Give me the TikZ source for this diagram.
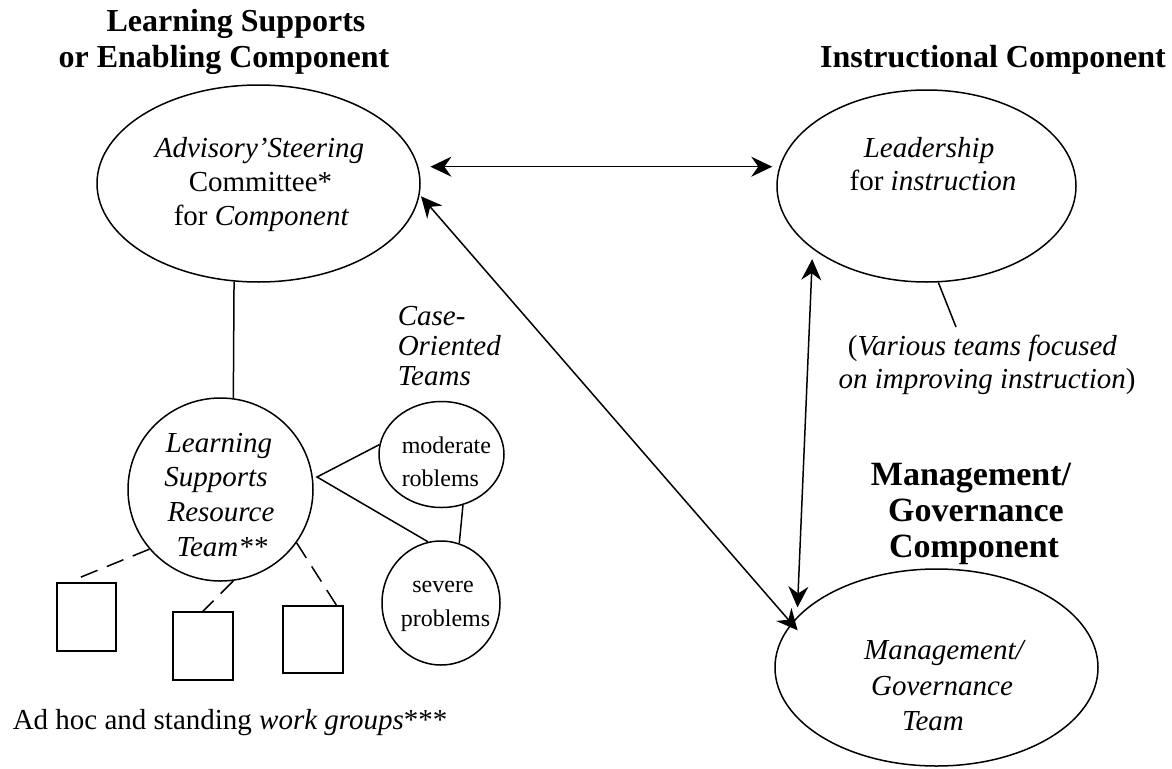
\documentclass[tikz,border=0pt]{standalone}
\usepackage{fontspec}
\setmainfont{Liberation Serif}
\usetikzlibrary{shapes.geometric,arrows.meta}
\begin{document}
\begin{tikzpicture}[x=1pt,y=-1pt, line width=1.5pt,
  shp/.style={draw, ellipse, inner sep=0pt},
  bx/.style={draw, rectangle, inner sep=0pt},
  txt/.style={anchor=base, inner sep=0pt, font=\fontsize{29}{34}\selectfont},
  sml/.style={anchor=base, inner sep=0pt, font=\fontsize{24}{28}\selectfont},
  head/.style={anchor=base, inner sep=0pt, font=\fontsize{32}{36}\selectfont\bfseries},
  headL/.style={anchor=base, inner sep=0pt, font=\fontsize{34}{38}\selectfont\bfseries},
  arr/.style={{Stealth[length=21pt,width=20pt,inset=7pt]}-{Stealth[length=21pt,width=20pt,inset=7pt]}},
  dsh/.style={dash pattern=on 18pt off 10pt}
]
\useasboundingbox (0,0) rectangle (1172,768);

% shapes
\node[shp, minimum width=323pt, minimum height=197pt] (adv) at (258.5,183.5) {};
\node[shp, minimum width=299pt, minimum height=192pt] (lead) at (926.5,186) {};
\node[shp, minimum width=323pt, minimum height=197pt] (mgmt) at (936.5,667.5) {};
\node[shp, minimum width=185pt, minimum height=183pt] (lsrt) at (220.5,489.5) {};
\node[shp, minimum width=125pt, minimum height=106pt] (mod) at (441.5,454.5) {};
\node[shp, minimum width=118pt, minimum height=124pt] (sev) at (441,603) {};
\node[bx, minimum width=59pt, minimum height=68pt] (b1) at (86.5,617) {};
\node[bx, minimum width=60pt, minimum height=68pt] (b2) at (203,646) {};
\node[bx, minimum width=60pt, minimum height=67pt] (b3) at (313,639.5) {};

% headings
\node[head] (h1a) at (236,32) {Learning Supports};
\node[head] (h1b) at (224,67) {or Enabling Component};
\node[head] (h2) at (993,67) {Instructional Component};
\node[headL] (h3a) at (971,485) {Management/};
\node[headL] (h3b) at (976,521) {Governance};
\node[headL] (h3c) at (974,557) {Component};

% texts
\node[txt] (a1) at (259.5,157) {\textit{Advisory’Steering}};
\node[txt] (a2) at (260.5,191) {Committee*};
\node[txt] (a3) at (261.5,225) {for \textit{Component}};
\node[txt] (l1) at (929,157) {\textit{Leadership}};
\node[txt] (l2) at (933,190) {for \textit{instruction}};
\node[txt] (r1) at (219,452) {\textit{Learning}};
\node[txt] (r2) at (216,486) {\textit{Supports}};
\node[txt] (r3) at (221,521) {\textit{Resource}};
\node[txt] (r4) at (222,556) {\textit{Team**}};
\node[txt, anchor=base west] (c1) at (397,325) {\textit{Case-}};
\node[txt, anchor=base west] (c2) at (397,355) {\textit{Oriented}};
\node[txt, anchor=base west] (c3) at (397,385) {\textit{Teams}};
\node[sml, anchor=base west] (m1) at (401,453) {moderate};
\node[sml, anchor=base west] (m2) at (401,486) {roblems};
\node[sml] (s1) at (443,592) {severe};
\node[sml] (s2) at (445.5,626) {problems};
\node[txt] (g1) at (945,659) {\textit{Management/}};
\node[txt] (g2) at (942,695) {\textit{Governance}};
\node[txt] (g3) at (933,730) {\textit{Team}};
\node[txt] (v1) at (982.5,355) {(\textit{Various teams focused}};
\node[txt] (v2) at (987,388) {\textit{on improving instruction})};
\node[txt, anchor=base west] (w) at (12,729) {Ad hoc and standing \textit{work groups}***};

% connectors
\draw (adv.256) -- (lsrt.82);
\coordinate (j) at (317,477);
\draw (mod.171) -- (j) -- (sev.102);
\draw (mod.293) -- (sev.73);
\draw[dsh] (lsrt.220) -- ([xshift=-6pt,yshift=5pt]b1.north);
\draw[dsh] (lsrt.278) -- (b2.north);
\draw[dsh] (lsrt.325) -- ([xshift=-6pt,yshift=-2pt]b3.north east);
\draw[arr, shorten <=12pt, shorten >=4pt] (adv.6.65) -- (adv.6.65 -| lead.west);
\draw[arr, shorten <=2pt, shorten >=-9.5pt] (adv.-4.6) -- (mgmt.163.7);
\draw[arr, shorten <=10pt, shorten >=9.3pt] (lead.209.1) -- (mgmt.160.6);
\coordinate (vt) at (956,327);
\draw (lead.277.4) -- (vt);
\end{tikzpicture}
\end{document}
